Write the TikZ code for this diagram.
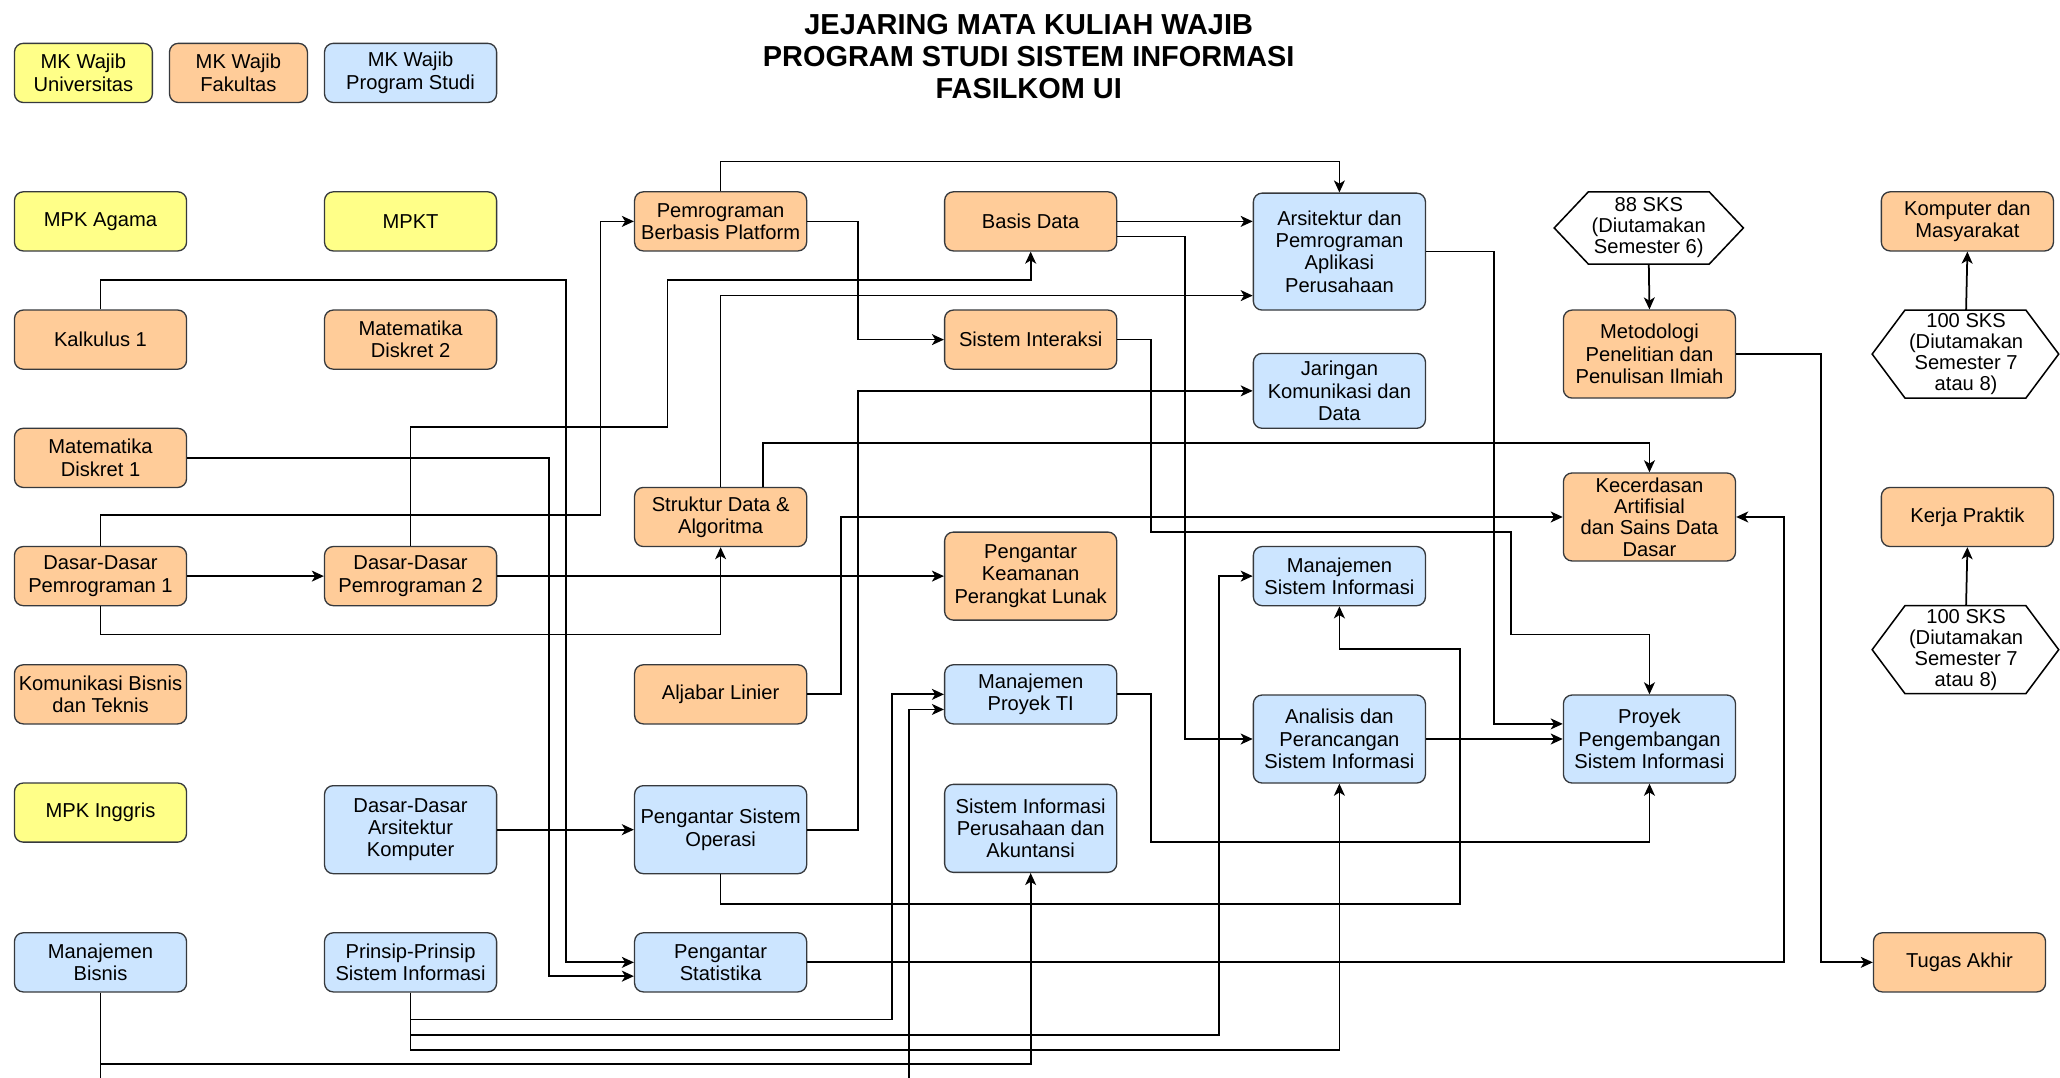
\documentclass[tikz,border=0pt]{standalone}
\usepackage{fontspec}
\setmainfont{Liberation Sans}
\usetikzlibrary{arrows.meta}
\definecolor{yel}{HTML}{FFFF88}
\definecolor{ora}{HTML}{FFCC99}
\definecolor{blu}{HTML}{CCE5FF}
\definecolor{edgec}{HTML}{36393D}
\begin{document}
\begin{tikzpicture}[x=0.6pt,y=-0.6pt,
  box/.style={draw=edgec, line width=0.6pt, rounded corners=4pt, minimum width=78.6pt, minimum height=27pt, inner sep=0pt, align=center, font=\fontsize{9.2}{10.2}\selectfont},
  yb/.style={box, fill=yel}, ob/.style={box, fill=ora}, bb/.style={box, fill=blu},
  tall/.style={minimum height=40.2pt},
  legw/.style={minimum width=63pt},
  arr/.style={draw=black, line width=0.8pt, -{Stealth[length=5.5pt,width=5pt,inset=1.5pt]}},
  hexbox/.style={inner sep=0pt, align=center, font=\fontsize{9.2}{9.6}\selectfont},
  hexline/.style={draw=black, line width=0.7pt, fill=white}
]
\useasboundingbox (0,0) rectangle (1568,820);
\clip (0,0) rectangle (1568,820);
\fill[white] (0,0) rectangle (1568,820);

% title
\node[font=\bfseries\fontsize{13.2}{14.7}\selectfont, align=center] (title) at (783,43) {JEJARING MATA KULIAH WAJIB\\PROGRAM STUDI SISTEM INFORMASI\\FASILKOM UI};

% legend
\node[yb, legw] (leg1) at (63.5,55.5) {MK Wajib\\Universitas};
\node[ob, legw] (leg2) at (181.5,55.5) {MK Wajib\\Fakultas};
\node[bb] (leg3) at (312.5,55.5) {MK Wajib\\Program Studi};

% column 1
\node[yb] (agama) at (76.5,168.5) {MPK Agama};
\node[ob] (kal) at (76.5,258.5) {Kalkulus 1};
\node[ob] (md1) at (76.5,348.5) {Matematika\\Diskret 1};
\node[ob] (ddp1) at (76.5,438.5) {Dasar-Dasar\\Pemrograman 1};
\node[ob] (kbt) at (76.5,528.5) {Komunikasi Bisnis\\dan Teknis};
\node[yb] (inggris) at (76.5,618.5) {MPK Inggris};
\node[bb] (mb) at (76.5,732.5) {Manajemen\\Bisnis};

% column 2
\node[yb] (mpkt) at (312.5,168.5) {MPKT};
\node[ob] (md2) at (312.5,258.5) {Matematika\\Diskret 2};
\node[ob] (ddp2) at (312.5,438.5) {Dasar-Dasar\\Pemrograman 2};
\node[bb, tall] (ddak) at (312.5,631.5) {Dasar-Dasar\\Arsitektur\\Komputer};
\node[bb] (ppsi) at (312.5,732.5) {Prinsip-Prinsip\\Sistem Informasi};

% column 3
\node[ob] (pbp) at (548.5,168.5) {Pemrograman\\Berbasis Platform};
\node[ob] (sda) at (548.5,393.5) {Struktur Data \&\\Algoritma};
\node[ob] (alin) at (548.5,528.5) {Aljabar Linier};
\node[bb, tall] (pso) at (548.5,631.5) {Pengantar Sistem\\Operasi};
\node[bb] (pstat) at (548.5,732.5) {Pengantar\\Statistika};

% column 4
\node[ob] (bd) at (784.5,168.5) {Basis Data};
\node[ob] (si) at (784.5,258.5) {Sistem Interaksi};
\node[ob, tall] (pkpl) at (784.5,438.5) {Pengantar\\Keamanan\\Perangkat Lunak};
\node[bb] (mpti) at (784.5,528.5) {Manajemen\\Proyek TI};
\node[bb, tall] (sipa) at (784.5,630.5) {Sistem Informasi\\Perusahaan dan\\Akuntansi};

% column 5
\node[bb, minimum height=53.4pt] (ars) at (1019.5,191.5) {Arsitektur dan\\Pemrograman\\Aplikasi\\Perusahaan};
\node[bb, minimum height=34.2pt] (jar) at (1019.5,297.5) {Jaringan\\Komunikasi dan\\Data};
\node[bb] (msi) at (1019.5,438.5) {Manajemen\\Sistem Informasi};
\node[bb, tall] (ana) at (1019.5,562.5) {Analisis dan\\Perancangan\\Sistem Informasi};

% hexagon outlines
\draw[hexline] (1183,173.5) -- (1209,146) -- (1301,146) -- (1327,173.5) -- (1301,201) -- (1209,201) -- cycle;
\draw[hexline] (1425,269.5) -- (1450,236) -- (1542,236) -- (1567,269.5) -- (1542,303) -- (1450,303) -- cycle;
\draw[hexline] (1425,494.5) -- (1450,461) -- (1542,461) -- (1567,494.5) -- (1542,528) -- (1450,528) -- cycle;

% column 6
\node[hexbox] (h88) at (1255,173.5) {88 SKS\\(Diutamakan\\Semester 6)};
\node[ob, tall] (metod) at (1255.5,269.5) {Metodologi\\Penelitian dan\\Penulisan Ilmiah};
\node[ob, tall, font=\fontsize{9.2}{9.8}\selectfont] (kec) at (1255.5,393.5) {Kecerdasan\\Artifisial\\dan Sains Data\\Dasar};
\node[bb, tall] (proy) at (1255.5,562.5) {Proyek\\Pengembangan\\Sistem Informasi};

% column 7
\node[ob] (komp) at (1497.5,168.5) {Komputer dan\\Masyarakat};
\node[hexbox] (h100a) at (1496.5,269.5) {100 SKS\\(Diutamakan\\Semester 7\\atau 8)};
\node[ob] (kp) at (1497.5,393.5) {Kerja Praktik};
\node[hexbox] (h100b) at (1496.5,494.5) {100 SKS\\(Diutamakan\\Semester 7\\atau 8)};
\node[ob] (ta) at (1491.5,732.5) {Tugas Akhir};

% connectors
\draw[arr] (ddp1.east) -- (ddp2.west);
\draw[arr] (ddp2.east) -- (pkpl.west);
\draw[arr] (ddp1.south) -- (76.5,483) -| (sda.south);
\draw[arr] (ddp1.north) |- (457,392) |- (pbp.west);
\draw[arr] (ddp2.north) |- (508,325) |- (784.5,213) -- (bd.south);
\draw[arr] (kal.north) |- (431,213) |- (pstat.west);
\draw[arr] (md1.east) -| (418,743) -- (pstat.west |- 0,743);
\draw[arr] (pbp.east) -| (653,258.5) -- (si.west);
\draw[arr] (pbp.north) |- (1019.5,123) -- (ars.north);
\draw[arr] (bd.east) -- (bd.east -| ars.west);
\draw[arr] (bd.east |- 0,180) -- (902,180) |- (ana.west);
\draw[arr] (sda.north) |- (ars.west |- 0,225);
\draw[arr] (581,0 |- sda.north) -- (581,337) -| (kec.north);
\draw[arr] (si.east) -| (876,405) -| (1150,483) -| (proy.north);
\draw[arr] (alin.east) -| (640,393.5) -- (kec.west);
\draw[arr] (pso.east) -| (653,297.5) -- (jar.west);
\draw[arr] (pso.south) |- (1111,688) |- (1019.5,494) -- (msi.south);
\draw[arr] (ddak.east) -- (pso.west);
\draw[arr] (pstat.east) -| (1358,393.5) -- (kec.east);
\draw[arr] (metod.east) -| (1386,732.5) -- (ta.west);
\draw[arr] (h88.south |- 0,201) -- (metod.north);
\draw[arr] (h100a.north |- 0,236) -- (komp.south);
\draw[arr] (h100b.north |- 0,461) -- (kp.south);
\draw[arr] (ars.east) -| (1137,551) -- (proy.west |- 0,551);
\draw[arr] (ana.east) -- (proy.west);
\draw[arr] (mpti.east) -| (876,641) -| (proy.south);
\draw[arr] (ppsi.south) |- (679,776) |- (mpti.west);
\draw[arr] (ppsi.south) |- (928,788) |- (msi.west);
\draw[arr] (ppsi.south) |- (1019.5,799) -- (ana.south);
\draw[arr] (mb.south) |- (784.5,810) -- (sipa.south);
\draw[arr] (mb.south) -- (76.5,840) -| (692,540) -- (mpti.west |- 0,540);
\end{tikzpicture}
\end{document}
